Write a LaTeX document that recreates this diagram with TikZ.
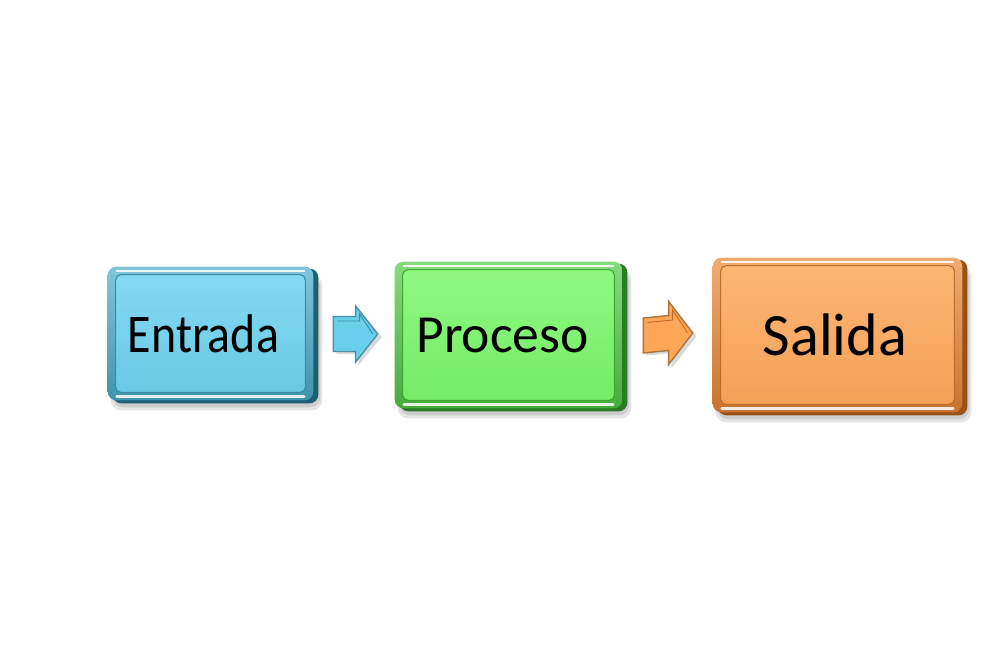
\documentclass[tikz,border=0pt]{standalone}
\usepackage{fontspec}
\setmainfont{Carlito}
\usetikzlibrary{calc,backgrounds}
\definecolor{bface}{HTML}{6ED3EF}
\definecolor{bbord}{HTML}{4AAECB}
\definecolor{bdark}{HTML}{1E5F72}
\definecolor{gface}{HTML}{7AF86B}
\definecolor{gbord}{HTML}{50CC44}
\definecolor{gdark}{HTML}{2B7A24}
\definecolor{oface}{HTML}{FFA95B}
\definecolor{obord}{HTML}{EB8836}
\definecolor{odark}{HTML}{985217}
\tikzset{
  box/.style={rounded corners=5pt, inner sep=0pt, text=black},
  arrowA/.style={draw=#1!70!black, line width=0.8pt, fill=#1, line join=miter},
}
\newcommand\bevelbox[4]{% name, face, border, dark
  \fill[black, opacity=0.10, rounded corners=6pt] ($(#1.north west)+(3,8)$) rectangle ($(#1.south east)+(9,10)$);
  \fill[black, opacity=0.10, rounded corners=6pt] ($(#1.north west)+(5,10)$) rectangle ($(#1.south east)+(7,7)$);
  \fill[#4, rounded corners=5pt] ($(#1.north west)+(5,2)$) rectangle ($(#1.south east)+(5,3)$);
  \shade[rounded corners=5pt, top color=#3!70!white, bottom color=#3!85!black] (#1.north west) rectangle (#1.south east);
  \shade[rounded corners=3pt, top color=#2!85!white, bottom color=#2!95!black] ($(#1.north west)+(8,8)$) rectangle ($(#1.south east)+(-8,-8)$);
  \draw[white, opacity=0.85, line width=1.2pt, line cap=round] ($(#1.north west)+(9,4)$) -- ($(#1.north east)+(-9,4)$);
  \draw[white, opacity=0.85, line width=1.4pt, line cap=round] ($(#1.south west)+(9,-4)$) -- ($(#1.south east)+(-9,-4)$);
  \draw[#3!80!black, line width=0.6pt, rounded corners=3pt] ($(#1.north west)+(8,8)$) rectangle ($(#1.south east)+(-8,-8)$);
}
\begin{document}
\begin{tikzpicture}[x=0.02cm, y=-0.02cm]
\useasboundingbox (0,0) rectangle (1000,667);
\node[box, minimum width=4.1cm, minimum height=2.66cm, font=\fontsize{31}{35}\selectfont] (entrada) at (210.5,333.5) {\scalebox{0.88}[1]{Entrada}\kern0.28cm};
\node[box, minimum width=4.54cm, minimum height=2.92cm, font=\fontsize{30.5}{35}\selectfont] (proceso) at (508.5,335) {Proceso\kern0.24cm};
\node[box, minimum width=4.98cm, minimum height=3.08cm, font=\fontsize{34.2}{38}\selectfont] (salida) at (837.5,335) {Salida\kern0.1cm};
\begin{scope}[on background layer]
  \fill[white] (0,0) rectangle (1000,667);
  \bevelbox{entrada}{bface}{bbord}{bdark}
  \bevelbox{proceso}{gface}{gbord}{gdark}
  \bevelbox{salida}{oface}{obord}{odark}
\end{scope}
% arrow 1
\coordinate (a1s) at ($(entrada.east)+(20,0.5)$);
\coordinate (a1e) at ($(proceso.west)+(-17,-1)$);
\fill[black, opacity=0.15] ($(a1s)+(3,-14)$) -- ($(a1e)+(-19,-14)$) -- ($(a1e)+(-19,-25)$) -- ($(a1e)+(4,3)$) -- ($(a1e)+(-19,31)$) -- ($(a1e)+(-19,20)$) -- ($(a1s)+(3,20)$) -- cycle;
\draw[arrowA=bface!90!bbord] (a1s) ++(0,-17.5) -- ($(a1e)+(-22,-17.5)$) -- ($(a1e)+(-22,-28)$) -- (a1e) -- ($(a1e)+(-22,28)$) -- ($(a1e)+(-22,17.5)$) -- ($(a1s)+(0,17.5)$) -- cycle;
\draw[bbord!80!black, line width=0.5pt] ($(a1s)+(4,-13)$) -- ($(a1e)+(-18,-13)$) -- ($(a1e)+(-18,-20)$) -- ($(a1e)+(-5,0)$);
% arrow 2
\coordinate (a2s) at ($(proceso.east)+(21,0.5)$);
\coordinate (a2e) at ($(salida.west)+(-20,-2)$);
\fill[black, opacity=0.15] ($(a2s)+(3,-14)$) -- ($(a2e)+(-21,-14)$) -- ($(a2e)+(-21,-28)$) -- ($(a2e)+(4,3)$) -- ($(a2e)+(-21,35)$) -- ($(a2e)+(-21,20)$) -- ($(a2s)+(3,20)$) -- cycle;
\draw[arrowA=oface!90!obord] (a2s) ++(0,-17.5) -- ($(a2e)+(-24,-17.5)$) -- ($(a2e)+(-24,-31.5)$) -- (a2e) -- ($(a2e)+(-24,31.5)$) -- ($(a2e)+(-24,17.5)$) -- ($(a2s)+(0,17.5)$) -- cycle;
\draw[obord!80!black, line width=0.5pt] ($(a2s)+(4,-13)$) -- ($(a2e)+(-20,-13)$) -- ($(a2e)+(-20,-23)$) -- ($(a2e)+(-5,0)$);
\end{tikzpicture}
\end{document}
